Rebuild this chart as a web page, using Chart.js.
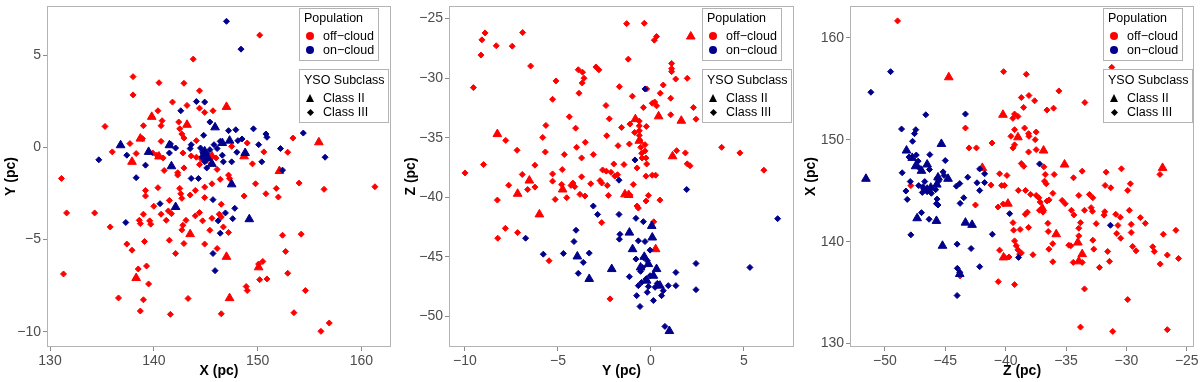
<!DOCTYPE html>
<html>
<head>
<meta charset="utf-8">
<script src="https://cdn.jsdelivr.net/npm/chart.js@4.4.1/dist/chart.umd.min.js"></script>
<style>
  body { margin: 0; background: #fff; font-family: "Liberation Sans", Arial, sans-serif; }
  .panel { position: absolute; top: 0; width: 400px; height: 382px; }
  .box { position: absolute; box-sizing: border-box; border: 1px solid #b3b3b3; background: #fff; }
  .lt { position: absolute; font-size: 12.5px; line-height: 14px; color: #000; white-space: nowrap; }
  .dot { position: absolute; width: 8px; height: 8px; border-radius: 50%; }
  .tri { position: absolute; width: 0; height: 0; border-left: 4.5px solid transparent; border-right: 4.5px solid transparent; border-bottom: 8px solid #000; }
  .dia { position: absolute; width: 5px; height: 5px; background: #000; transform: rotate(45deg); }
</style>
</head>
<body>
<div class="panel" style="left:0"><canvas id="c1" width="400" height="382"></canvas></div>
<div class="panel" style="left:400px"><canvas id="c2" width="400" height="382"></canvas></div>
<div class="panel" style="left:800px"><canvas id="c3" width="400" height="382"></canvas></div>
<div id="legends"></div>
<script>
// ---- panel 1: X vs Y ----
const xyOffII = [[147.0,2.19],[139.8,1.65],[143.2,1.22],[138.7,0.47],[137.9,-0.79],[140.5,-0.5],[148.7,-0.49],[152.1,-1.29],[155.9,0.27],[145.6,-0.49],[143.5,-4.71],[147.0,-5.94],[150.1,-6.51],[138.3,-7.09],[147.3,-8.18]];
const xyOffIII = [[150.2,6.08],[143.8,4.78],[138.0,3.83],[138.0,2.84],[140.5,3.5],[142.9,3.47],[144.4,3.06],[141.8,2.45],[143.2,2.27],[144.4,2.12],[145.7,1.98],[140.4,1.98],[144.9,1.89],[140.8,1.44],[140.7,1.17],[142.4,1.37],[135.3,1.13],[139.0,1.17],[142.5,1.0],[142.7,0.72],[142.9,0.5],[138.9,0.47],[140.7,0.32],[144.1,0.36],[137.7,0.2],[136.0,-0.25],[138.3,-0.34],[139.9,-0.31],[140.3,-0.43],[140.9,-0.58],[142.8,-0.31],[143.6,-0.47],[144.1,-0.54],[144.6,-0.65],[144.4,-0.94],[145.1,-0.72],[146.0,-0.58],[145.5,-0.9],[146.1,-1.2],[147.5,0.05],[149.0,0.23],[149.5,-0.9],[150.6,-0.25],[153.4,0.5],[152.9,-0.27],[141.0,-1.26],[142.3,-1.38],[142.9,-1.12],[142.3,-1.51],[144.9,-2.16],[146.4,-1.74],[147.2,-1.51],[147.3,-1.69],[149.8,-1.98],[150.8,-2.52],[151.8,-2.23],[152.0,-2.7],[154.0,-1.94],[156.4,-2.28],[161.3,-2.14],[131.1,-1.69],[131.6,-3.56],[134.3,-3.56],[135.8,-4.32],[140.4,-2.19],[142.5,-2.23],[139.2,-2.34],[142.6,-2.52],[143.5,-2.59],[144.0,-2.34],[145.6,-1.98],[139.2,-2.64],[142.7,-2.77],[144.9,-2.73],[148.7,-2.64],[141.5,-2.88],[140.0,-3.2],[139.0,-3.63],[140.7,-3.63],[141.4,-3.45],[141.7,-3.6],[144.0,-3.72],[144.4,-3.54],[138.6,-3.96],[138.7,-4.14],[139.6,-3.99],[139.7,-4.17],[141.2,-3.96],[143.1,-3.96],[142.8,-4.23],[142.7,-4.48],[144.7,-3.99],[145.6,-3.85],[146.3,-3.63],[146.5,-3.78],[146.7,-4.32],[147.2,-4.62],[145.4,-4.5],[146.5,-3.09],[137.4,-5.25],[137.9,-5.58],[139.1,-5.11],[141.5,-5.04],[142.9,-5.22],[142.1,-5.76],[144.9,-5.25],[146.1,-5.49],[150.5,-6.19],[150.1,-6.33],[138.5,-6.6],[139.3,-6.44],[139.5,-7.41],[150.2,-7.18],[150.9,-7.14],[148.9,-7.55],[149.0,-7.77],[136.6,-8.17],[139.0,-8.27],[143.3,-8.2],[138.7,-8.88],[141.6,-9.06],[146.5,-9.03],[131.3,-6.87],[152.4,-4.77],[154.2,-4.71],[152.7,-5.65],[152.9,-6.83],[154.6,-7.77],[153.5,-8.97],[156.1,-9.98],[156.9,-9.53]];
const xyOnII = [[136.8,0.11],[139.5,-0.25],[141.5,0.11],[141.7,-1.03],[145.9,1.08],[147.3,0.36],[146.6,0.23],[144.8,-0.4],[145.6,-0.9],[148.8,-0.31],[147.5,-2.01],[149.2,-3.9],[142.1,-3.24],[144.9,-0.22],[145.2,-0.58]];
const xyOnIII = [[147.0,6.83],[148.4,5.32],[144.1,2.48],[144.9,2.45],[142.6,1.98],[145.4,1.37],[144.8,0.65],[147.2,0.9],[147.9,0.95],[149.6,1.0],[148.1,0.36],[148.5,0.45],[150.8,0.72],[150.9,0.54],[150.1,0.14],[152.2,-0.07],[154.4,0.77],[156.5,-0.54],[150.4,-0.79],[152.4,-1.24],[134.7,-0.68],[137.4,-0.43],[139.2,-0.97],[138.3,-1.65],[141.6,0.18],[141.5,-0.31],[142.1,-0.04],[143.6,0.14],[143.5,-0.07],[144.5,-0.04],[144.7,-0.25],[145.1,-0.36],[145.4,-0.13],[145.8,0.14],[146.1,-0.07],[146.4,0.32],[146.6,-0.43],[146.7,-0.79],[147.5,-0.79],[148.0,-0.27],[144.7,-0.58],[144.9,-0.79],[145.1,-1.12],[143.6,-1.69],[144.3,-1.69],[140.6,-3.06],[137.3,-4.08],[145.7,-2.84],[147.8,-3.31],[146.9,-3.56],[146.2,-3.99],[147.6,-3.87],[146.4,-4.66],[145.7,-5.76],[145.9,-6.69]];

// ---- panel 2: Y vs Z ----
const yzOffII = [[-8.26,-34.69],[-6.54,-38.59],[-7.17,-39.7],[-6.0,-41.43],[-4.75,-39.34],[-1.4,-39.75],[-1.2,-39.8],[-0.84,-33.44],[-0.63,-35.25],[0.41,-33.2],[1.63,-33.57],[1.16,-36.55],[2.14,-26.5],[0.25,-44.35]];
const yzOffIII = [[-10.0,-37.95],[-9.55,-30.79],[-9.14,-28.06],[-9.09,-26.78],[-8.92,-26.2],[-9.0,-37.25],[-8.32,-27.28],[-8.26,-40.23],[-8.24,-43.43],[-7.81,-35.22],[-7.83,-42.6],[-7.65,-38.98],[-7.46,-27.31],[-7.2,-36.05],[-7.17,-42.96],[-6.9,-26.17],[-6.92,-38.08],[-6.63,-39.34],[-6.47,-28.98],[-6.24,-39.14],[-6.24,-37.3],[-5.82,-34.97],[-5.68,-36.19],[-5.65,-33.96],[-5.48,-45.32],[-5.29,-31.77],[-5.29,-38.03],[-5.29,-38.64],[-5.15,-40.17],[-5.11,-30.23],[-4.77,-37.67],[-4.8,-38.92],[-4.66,-36.41],[-4.53,-40.03],[-4.39,-33.24],[-4.3,-39.0],[-4.2,-38.8],[-4.1,-39.1],[-4.05,-34.19],[-4.0,-35.8],[-3.91,-29.29],[-3.87,-31.26],[-3.82,-39.75],[-3.73,-38.28],[-3.68,-29.5],[-3.6,-30.0],[-3.55,-39.89],[-3.7,-30.4],[-3.53,-35.38],[-3.73,-36.69],[-3.24,-38.86],[-3.1,-36.41],[-2.96,-29.06],[-2.8,-29.3],[-2.65,-42.12],[-2.74,-38.59],[-2.65,-38.8],[-2.6,-37.7],[-2.42,-32.29],[-2.38,-34.83],[-2.29,-39.84],[-2.24,-33.41],[-2.35,-39.0],[-2.4,-37.8],[-2.2,-48.52],[-2.15,-37.9],[-2.0,-37.2],[-1.94,-38.22],[-1.8,-38.1],[-1.77,-35.66],[-1.7,-30.71],[-1.58,-34.13],[-1.45,-37.25],[-1.31,-25.42],[-1.22,-28.4],[-1.16,-35.52],[-1.13,-33.85],[-1.13,-39.81],[-1.0,-31.51],[-0.95,-38.92],[-0.88,-34.55],[-0.75,-37.53],[-0.75,-40.73],[-0.68,-40.9],[-0.63,-33.6],[-0.63,-34.0],[-0.63,-34.4],[-0.63,-34.8],[-0.6,-35.2],[-0.55,-35.8],[-0.5,-36.3],[-0.48,-36.7],[-0.41,-32.46],[-0.36,-25.39],[-0.32,-35.58],[-0.32,-36.1],[-0.27,-36.69],[-0.25,-34.05],[-0.23,-37.2],[-0.27,-38.22],[-0.27,-40.31],[-0.23,-30.9],[-0.14,-39.84],[0.07,-38.14],[0.07,-32.1],[0.25,-38.14],[0.18,-26.81],[0.3,-26.5],[0.2,-32.0],[0.3,-32.32],[0.48,-40.23],[0.5,-31.26],[0.66,-30.57],[1.06,-31.68],[1.06,-33.07],[1.11,-28.76],[1.11,-29.2],[1.11,-29.45],[1.33,-30.07],[1.38,-36.08],[1.85,-36.27],[1.95,-30.01],[1.95,-37.19],[2.1,-37.35],[2.28,-32.46],[2.42,-33.44],[3.8,-35.8],[4.78,-36.27],[6.07,-37.72],[0.15,-42.05]];
const yzOnII = [[-3.96,-44.96],[-3.32,-46.85],[-2.11,-46.02],[-1.16,-42.96],[-0.99,-44.35],[0.04,-42.4],[0.07,-43.37],[0.3,-46.02],[0.13,-46.58],[-0.36,-44.99],[-0.14,-45.6],[-0.56,-45.88],[-0.23,-46.99],[0.99,-51.22],[0.48,-47.41]];
const yzOnIII = [[-0.32,-30.9],[-0.86,-36.86],[-1.72,-38.56],[1.92,-39.34],[6.81,-41.79],[-3.1,-40.73],[-2.87,-41.43],[-1.72,-41.43],[-0.81,-41.76],[-0.41,-42.04],[-4.03,-42.76],[-4.14,-43.71],[-6.74,-43.43],[-5.79,-44.77],[-4.71,-44.71],[-3.32,-44.68],[-3.64,-45.46],[-3.91,-46.38],[-1.67,-43.1],[-1.7,-43.51],[-0.68,-43.65],[-0.32,-43.71],[-0.05,-44.43],[-0.2,-45.32],[-0.81,-45.18],[-1.16,-46.66],[-0.77,-48.25],[-0.59,-49.16],[0.13,-48.66],[0.57,-48.25],[0.93,-47.41],[1.34,-47.41],[1.34,-46.3],[2.42,-45.55],[2.42,-47.75],[5.32,-45.88],[0.75,-50.83],[-0.41,-45.05],[-0.45,-45.88],[-0.56,-46.21],[-0.27,-46.85],[-0.5,-47.13],[-0.14,-47.49],[0.22,-47.55],[0.34,-47.22],[-0.05,-46.58],[-0.68,-47.41],[-0.2,-47.97],[0.66,-47.83]];

// ---- panel 3: Z vs X ----
const zxOffII = [[-44.71,156.13],[-40.22,152.45],[-38.98,150.24],[-36.86,148.94],[-35.12,147.57],[-41.93,147.24],[-39.81,143.73],[-36.97,143.27],[-35.81,140.73],[-34.02,139.92],[-33.66,138.78],[-33.94,138.07],[-40.17,138.46],[-27.0,147.24]];
const zxOffIII = [[-48.95,161.66],[-31.21,157.1],[-40.17,156.68],[-38.29,156.42],[-35.59,154.79],[-38.07,154.34],[-38.7,154.14],[-37.6,153.82],[-33.44,153.65],[-36.03,153.1],[-36.58,152.91],[-38.51,153.17],[-39.26,152.52],[-38.98,152.29],[-39.4,152.1],[-38.43,151.15],[-39.26,150.99],[-39.56,150.34],[-38.07,150.34],[-37.47,150.76],[-37.55,150.01],[-38.1,150.6],[-43.33,151.15],[-43.03,149.2],[-42.42,149.2],[-41.13,149.68],[-39.39,149.2],[-39.26,149.5],[-38.1,148.8],[-37.47,149.03],[-38.7,147.67],[-38.5,147.4],[-36.83,147.34],[-36.72,146.59],[-36.78,145.94],[-36.64,145.68],[-35.98,146.59],[-34.38,146.27],[-33.66,146.92],[-31.68,146.82],[-30.41,147.15],[-29.67,145.68],[-29.89,145.03],[-31.76,145.52],[-31.29,145.29],[-40.5,146.66],[-39.89,146.5],[-40.33,145.52],[-40.1,145.52],[-41.21,145.55],[-38.95,145.03],[-38.35,145.03],[-37.93,144.64],[-37.47,144.54],[-37.25,144.31],[-37.14,143.89],[-36.58,143.99],[-37.2,143.08],[-36.9,142.9],[-36.4,144.1],[-36.09,144.74],[-35.32,144.05],[-34.55,143.08],[-35.07,143.73],[-33.94,144.54],[-33.06,144.64],[-32.78,144.31],[-32.92,143.34],[-33.47,143.08],[-34.35,142.62],[-33.8,141.87],[-33.94,141.32],[-32.81,142.98],[-32.5,141.77],[-31.79,142.94],[-31.85,142.6],[-30.88,142.69],[-30.5,142.4],[-30.7,141.6],[-30.8,140.8],[-30.47,140.34],[-29.6,141.7],[-29.6,140.9],[-28.84,142.36],[-28.43,141.8],[-29.75,143.08],[-29.48,139.53],[-29.2,139.1],[-27.82,139.5],[-27.69,139.04],[-26.94,140.73],[-25.9,141.12],[-26.61,138.69],[-25.68,138.36],[-27.2,137.81],[-27.22,146.6],[-33.94,140.57],[-34.77,139.66],[-34.6,139.6],[-32.78,140.15],[-32.7,139.27],[-31.55,139.04],[-31.4,138.07],[-32.23,137.48],[-33.66,137.97],[-34.4,137.97],[-33.47,135.37],[-29.89,134.32],[-33.8,131.62],[-31.13,131.2],[-26.61,131.37],[-36.5,141.8],[-36.47,141.0],[-36.1,139.8],[-36.42,139.27],[-36.09,138.03],[-37.74,138.72],[-38.37,142.69],[-38.8,141.2],[-39.39,141.87],[-39.34,141.13],[-39.26,140.08],[-39.12,139.6],[-38.98,139.2],[-38.84,138.78],[-38.7,138.9],[-39.72,138.5],[-40.5,139.17],[-40.1,138.5],[-40.61,136.08],[-39.26,135.79],[-40.63,143.4],[-40.2,143.7],[-42.5,143.6],[-45.68,146.23],[-47.85,145.5],[-43.77,136.64],[-38.2,142.9],[-38.1,141.4]];
const zxOnII = [[-51.57,146.17],[-48.21,148.94],[-47.74,148.22],[-47.46,147.4],[-46.97,146.95],[-46.5,147.57],[-45.32,149.59],[-44.77,146.17],[-45.6,146.3],[-45.7,145.6],[-46.5,145.1],[-46.2,145.3],[-47.33,142.3],[-45.73,142.04],[-45.23,139.6],[-43.33,141.87],[-42.78,141.65],[-43.8,136.83]];
const zxOnIII = [[-49.53,156.68],[-51.16,154.66],[-46.61,152.45],[-43.33,152.52],[-48.62,151.05],[-47.55,150.6],[-47.44,150.99],[-47.71,149.85],[-48.57,146.76],[-47.9,145.9],[-48.26,144.97],[-48.15,144.15],[-46.28,148.54],[-45.0,147.96],[-46.31,147.08],[-45.18,146.85],[-45.1,146.5],[-45.55,145.95],[-45.8,145.1],[-46.15,144.75],[-46.5,144.9],[-46.9,144.83],[-46.8,145.2],[-47.2,145.5],[-46.7,145.9],[-46.85,145.4],[-47.2,147.3],[-47.25,147.9],[-47.4,148.5],[-48.0,148.3],[-44.08,145.45],[-43.8,145.7],[-43.77,143.76],[-43.47,144.31],[-43.14,146.33],[-42.37,145.78],[-42.15,145.03],[-41.74,146.66],[-41.74,145.8],[-42.15,147.14],[-45.73,143.73],[-45.6,143.6],[-46.97,142.85],[-46.34,142.2],[-47.85,140.67],[-44.02,139.76],[-42.86,139.33],[-42.15,137.55],[-44.0,137.39],[-43.8,137.0],[-44.02,134.72],[-41.1,140.73],[-39.67,142.75],[-38.93,138.46],[-37.19,147.63],[-31.32,141.61],[-45.68,144.18]];

// tick values
const ticksXpc = [130, 140, 150, 160];
const ticksYpc = [-10, -5, 0, 5];
const ticksZpc = [-50, -45, -40, -35, -30, -25];

const RED = '#FF0000';
const NAVY = '#00008B';
const FRAME = '#b3b3b3';

Chart.defaults.font.family = '"Liberation Sans", Arial, sans-serif';
Chart.defaults.animation = false;

// grey panel border like ggplot
const framePlugin = {
    id: 'frame',
    afterDraw(chart) {
        const a = chart.chartArea;
        const ctx = chart.ctx;
        ctx.save();
        ctx.strokeStyle = FRAME;
        ctx.lineWidth = 1;
        ctx.strokeRect(Math.round(a.left) + 0.5, Math.round(a.top) + 0.5, Math.round(a.right - a.left) - 1, Math.round(a.bottom - a.top) - 1);
        ctx.restore();
    }
};

function toPts(arr) {
    return arr.map(p => ({ x: p[0], y: p[1] }));
}

function ds(arr, color, shape) {
    return {
        data: toPts(arr),
        backgroundColor: color,
        borderColor: color,
        borderWidth: 1,
        pointStyle: shape,
        pointRadius: shape === 'triangle' ? 5 : 3,
        pointHoverRadius: shape === 'triangle' ? 5 : 3
    };
}

function minusFmt(v) {
    return String(v).replace('-', '\u2212');
}

function axis(title, min, max, ticks, isY, size) {
    return {
        type: 'linear',
        min: min,
        max: max,
        afterBuildTicks: s => { s.ticks = ticks.map(v => ({ value: v })); },
        afterFit: s => {
            if (isY) {
                s.width = size;
                s.paddingTop = 0;
                s.paddingBottom = 0;
            } else {
                s.height = size;
                s.paddingLeft = 0;
                s.paddingRight = 0;
            }
        },
        grid: { display: true, drawOnChartArea: false, drawTicks: true, tickLength: 4, color: '#8c8c8c' },
        border: { display: false },
        ticks: { color: '#4d4d4d', font: { size: 14 }, padding: 2, callback: minusFmt, maxRotation: 0 },
        title: { display: true, text: title, color: '#000', font: { size: 14, weight: 'bold' }, padding: isY ? { top: 3, bottom: 0 } : { top: 0, bottom: 2 } }
    };
}

function makePanel(id, sets, xTitle, yTitle, xr, yr, xt, yt, yw, rp) {
    new Chart(document.getElementById(id), {
        type: 'scatter',
        data: {
            datasets: [
                ds(sets[3], NAVY, 'rectRot'),
                ds(sets[2], NAVY, 'triangle'),
                ds(sets[0], RED, 'triangle'),
                ds(sets[1], RED, 'rectRot')
            ]
        },
        options: {
            responsive: false,
            devicePixelRatio: 1,
            layout: { padding: { top: 4, right: rp, left: 0, bottom: 0 } },
            plugins: { legend: { display: false }, tooltip: { enabled: false } },
            scales: {
                x: axis(xTitle, xr[0], xr[1], xt, false, 35),
                y: axis(yTitle, yr[0], yr[1], yt, true, yw)
            }
        },
        plugins: [framePlugin]
    });
}

makePanel('c1', [xyOffII, xyOffIII, xyOnII, xyOnIII], 'X (pc)', 'Y (pc)', [129.71, 162.85], [-10.83, 7.66], ticksXpc, ticksYpc, 47, 9);
makePanel('c2', [yzOffII, yzOffIII, yzOnII, yzOnIII], 'Y (pc)', 'Z (pc)', [-10.86, 7.69], [-52.56, -23.94], ticksYpc, [-50, -45, -40, -35, -30, -25], 49, 6);
makePanel('c3', [zxOffII, zxOffIII, zxOnII, zxOnIII], 'Z (pc)', 'X (pc)', [-52.89, -24.4], [129.67, 163.12], ticksZpc, ticksXpc, 50, 5);

// legends (two boxes per panel, top right of plot area)
function addLegend(L) {
    const host = document.getElementById('legends');
    const parts = [];
    parts.push(`<div class="box" style="left:${L}px;top:8px;width:80px;height:53px"></div>`);
    parts.push(`<div class="lt" style="left:${L + 5}px;top:11px">Population</div>`);
    parts.push(`<div class="dot" style="left:${L + 7}px;top:32px;background:${RED}"></div>`);
    parts.push(`<div class="lt" style="left:${L + 24}px;top:29px">off\u2212cloud</div>`);
    parts.push(`<div class="dot" style="left:${L + 7}px;top:46px;background:${NAVY}"></div>`);
    parts.push(`<div class="lt" style="left:${L + 24}px;top:43px">on\u2212cloud</div>`);
    parts.push(`<div class="box" style="left:${L}px;top:69px;width:90px;height:54px"></div>`);
    parts.push(`<div class="lt" style="left:${L + 5}px;top:73px">YSO Subclass</div>`);
    parts.push(`<div class="tri" style="left:${L + 6.5}px;top:94px"></div>`);
    parts.push(`<div class="lt" style="left:${L + 24}px;top:91px">Class II</div>`);
    parts.push(`<div class="dia" style="left:${L + 8.5}px;top:109.5px"></div>`);
    parts.push(`<div class="lt" style="left:${L + 24}px;top:105px">Class III</div>`);
    host.insertAdjacentHTML('beforeend', parts.join(''));
}

addLegend(299);
addLegend(702);
addLegend(1103);
</script>
</body>
</html>
